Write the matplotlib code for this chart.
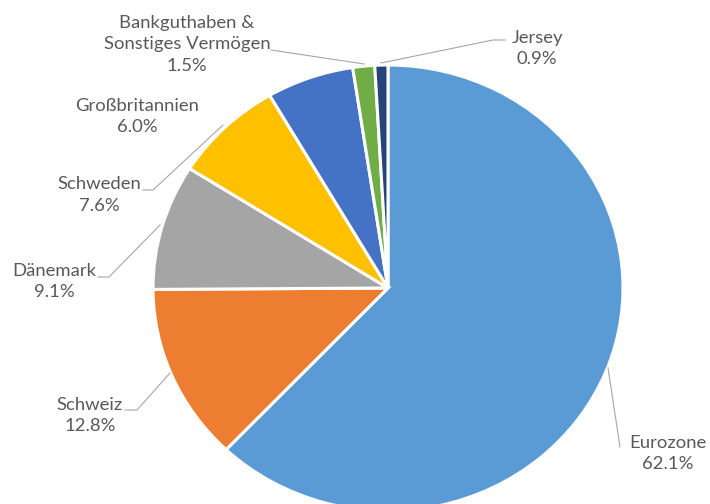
import matplotlib
matplotlib.use("Agg")
import matplotlib.pyplot as plt

# --- data -------------------------------------------------------------------
categories = ["Eurozone", "Schweiz", "Dänemark", "Schweden", "Großbritannien",
              "Bankguthaben &\nSonstiges Vermögen", "Jersey"]
shares = [62.1, 12.8, 9.1, 7.6, 6.0, 1.5, 0.9]
colors = ["#5B9BD5", "#ED7D31", "#A5A5A5", "#FFC000", "#4472C4",
          "#70AD47", "#264478"]

# --- layout (pixels in the 710x504 canvas) ----------------------------------
W, H = 710, 504
CX, CY = 388, 288          # pie centre
RX, RY = 235, 223          # pie looks slightly stretched sideways

label_pos = {
    "Eurozone": (668, 453.5),
    "Schweiz": (90, 415.5),
    "Dänemark": (54, 281.5),
    "Schweden": (99, 195),
    "Großbritannien": (137, 116.5),
    "Bankguthaben &\nSonstiges Vermögen": (187, 44.5),
    "Jersey": (537, 48.5),
}
leaders = [
    [(620, 447), (608, 368)],
    [(125, 410), (137, 410), (170, 373)],
    [(98, 277), (109, 277), (160, 225)],
    [(143, 190), (153, 190), (223, 125)],
    [(271, 50), (364, 64)],
    [(381, 63), (493, 40), (505, 40)],
]


def px(x, y):
    """pixel (from top-left) -> figure fraction"""
    return x / W, 1 - y / H


fig = plt.figure(figsize=(W / 100, H / 100), dpi=100)
ax = fig.add_axes([0, 0, 1, 1])
ax.pie(shares, colors=colors, startangle=90, counterclock=False,
       wedgeprops=dict(edgecolor="white", linewidth=2.2))
ax.set_aspect("auto")
ax.set_xlim(-CX / RX, (W - CX) / RX)
ax.set_ylim(-(H - CY) / RY, CY / RY)
ax.axis("off")

for cat, val in zip(categories, shares):
    x, y = label_pos[cat]
    fig.text(*px(x, y), f"{cat}\n{val:.1f}%", ha="center", va="center",
             multialignment="center", linespacing=1.4,
             fontsize=13.3, color="#595959", family=["Lato", "DejaVu Sans"])

for pts in leaders:
    xs, ys = zip(*[px(x, y) for x, y in pts])
    fig.add_artist(plt.Line2D(xs, ys, color="#A6A6A6", lw=0.8,
                              transform=fig.transFigure))

fig.savefig("out.png", dpi=100)
